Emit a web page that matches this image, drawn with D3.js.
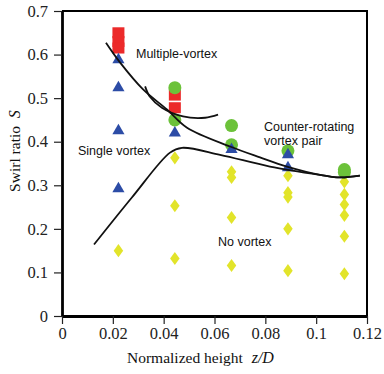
<!DOCTYPE html>
<html>
<head>
<meta charset="utf-8">
<script src="https://cdn.jsdelivr.net/npm/d3@7"></script>
<style>
  body { margin: 0; background: #fff; }
  svg { display: block; }
</style>
</head>
<body>
<svg width="384" height="374"></svg>
<script>
// measurement columns, normalized height z/D
var zD = [0.0222, 0.0444, 0.0667, 0.0889, 0.1111];

// swirl ratio at each column, one list per vortex type
var multiS = [[0.65, 0.63, 0.615], [0.507, 0.478], [], [], []];      // red squares
var singleS = [[0.588, 0.524, 0.425, 0.292], [0.42], [0.382], [0.37, 0.34], []]; // blue triangles
var pairS = [[], [0.524, 0.45], [0.437, 0.393], [0.379], [0.336, 0.330]];         // green circles
var noneS = [[0.15], [0.363, 0.253, 0.132], [0.331, 0.318, 0.226, 0.116],
             [0.322, 0.283, 0.273, 0.2, 0.104], [0.308, 0.279, 0.256, 0.231, 0.183, 0.097]]; // yellow diamonds

// boundary curves, [z/D, S]
var upperCurve = [[0.0173, 0.627], [0.0228, 0.582], [0.0319, 0.520], [0.0413, 0.474], [0.0492, 0.432],
                  [0.0661, 0.389], [0.0779, 0.364], [0.0885, 0.343], [0.1015, 0.324], [0.1094, 0.318], [0.1172, 0.322]];
var hookCurve = [[0.0327, 0.527], [0.0346, 0.503], [0.0393, 0.478], [0.0476, 0.458], [0.0563, 0.455], [0.0614, 0.462]];
var lowerCurve = [[0.0126, 0.164], [0.0275, 0.272], [0.0425, 0.375], [0.0472, 0.386], [0.0622, 0.370],
                  [0.0818, 0.343], [0.1015, 0.324], [0.1094, 0.318], [0.1172, 0.322]];

var yTicks = [0, 0.1, 0.2, 0.3, 0.4, 0.5, 0.6, 0.7];
var yTickLabels = ["0", "0.1", "0.2", "0.3", "0.4", "0.5", "0.6", "0.7"];
var xTicks = [0, 0.02, 0.04, 0.06, 0.08, 0.1, 0.12];
var xTickLabels = ["0", "0.02", "0.04", "0.06", "0.08", "0.1", "0.12"];

function draw() {
    var svg = d3.select("svg");
    var left = 62, right = 367, top = 11, bottom = 316;

    var x = d3.scaleLinear().domain([0, 0.12]).range([left, right]);
    var y = d3.scaleLinear().domain([0, 0.7]).range([bottom, top]);

    // frame top / right
    svg.append("path")
        .attr("d", "M" + left + "," + top + "H" + right + "V" + bottom)
        .attr("fill", "none").attr("stroke", "#000").attr("stroke-width", 2);

    var serif = "'Liberation Serif', 'Times New Roman', serif";
    var sans = "'Liberation Sans', Arial, sans-serif";

    var yAxis = svg.append("g")
        .attr("transform", "translate(" + left + ",0)")
        .call(d3.axisLeft(y).tickValues(yTicks).tickSize(8).tickSizeOuter(0).tickPadding(6)
            .tickFormat(function(d, i) { return yTickLabels[i]; }));

    var xAxis = svg.append("g")
        .attr("transform", "translate(0," + bottom + ")")
        .call(d3.axisBottom(x).tickValues(xTicks).tickSize(8).tickSizeOuter(0).tickPadding(3)
            .tickFormat(function(d, i) { return xTickLabels[i]; }));

    [yAxis, xAxis].forEach(function(a) {
        a.select(".domain").attr("stroke-width", 2.8).attr("stroke", "#000");
        a.selectAll(".tick line").attr("stroke", "#222").attr("stroke-width", 1.2);
        a.selectAll(".tick text").attr("font-family", serif).attr("font-size", 16.5).attr("fill", "#222");
    });

    // markers
    function flat(list) {
        var out = [];
        list.forEach(function(col, i) {
            col.forEach(function(s) { out.push({ z: zD[i], s: s }); });
        });
        return out;
    }

    var plot = svg.append("g");

    plot.selectAll(".none").data(flat(noneS)).enter().append("path")
        .attr("class", "none")
        .attr("d", d3.symbol().type(d3.symbolDiamond).size(50))
        .attr("transform", function(d) { return "translate(" + x(d.z) + "," + y(d.s) + ") scale(1.25,1)"; })
        .attr("fill", "#e2e42a");

    plot.selectAll(".multi").data(flat(multiS)).enter().append("rect")
        .attr("class", "multi")
        .attr("x", function(d) { return x(d.z) - 6; })
        .attr("y", function(d) { return y(d.s) - 5.5; })
        .attr("width", 12).attr("height", 11)
        .attr("fill", "#ec2a2a");

    plot.selectAll(".pair").data(flat(pairS)).enter().append("circle")
        .attr("class", "pair")
        .attr("cx", function(d) { return x(d.z); })
        .attr("cy", function(d) { return y(d.s); })
        .attr("r", 6.5)
        .attr("fill", "#6cc23a");

    plot.selectAll(".single").data(flat(singleS)).enter().append("path")
        .attr("class", "single")
        .attr("d", d3.symbol().type(d3.symbolTriangle).size(64))
        .attr("transform", function(d) { return "translate(" + x(d.z) + "," + y(d.s) + ")"; })
        .attr("fill", "#2c4ca6");

    // boundary curves
    var line = d3.line()
        .x(function(d) { return x(d[0]); })
        .y(function(d) { return y(d[1]); })
        .curve(d3.curveCatmullRom.alpha(0.5));

    [upperCurve, hookCurve, lowerCurve].forEach(function(c) {
        svg.append("path")
            .attr("d", line(c))
            .attr("fill", "none")
            .attr("stroke", "#111")
            .attr("stroke-width", 1.8);
    });

    // region labels
    var labels = [
        { t: "Multiple-vortex", px: 136, py: 58 },
        { t: "Single vortex", px: 78, py: 155 },
        { t: "Counter-rotating", px: 264, py: 131 },
        { t: "vortex pair", px: 264, py: 145 },
        { t: "No vortex", px: 218, py: 246 }
    ];
    svg.selectAll(".lbl").data(labels).enter().append("text")
        .attr("class", "lbl")
        .attr("x", function(d) { return d.px; })
        .attr("y", function(d) { return d.py; })
        .attr("font-family", sans)
        .attr("font-size", 12.5)
        .attr("fill", "#111")
        .text(function(d) { return d.t; });

    // axis titles
    var xt = svg.append("text")
        .attr("x", 127).attr("y", 363)
        .attr("font-family", serif).attr("font-size", 15.5).attr("fill", "#111");
    xt.append("tspan").text("Normalized height ");
    xt.append("tspan").attr("dx", 5).attr("font-style", "italic").attr("font-size", 16).text("z/D");

    var yt = svg.append("text")
        .attr("transform", "translate(20,151) rotate(-90)")
        .attr("text-anchor", "middle")
        .attr("font-family", serif).attr("font-size", 15.5).attr("fill", "#111");
    yt.append("tspan").text("Swirl ratio ");
    yt.append("tspan").attr("dx", 4).attr("font-style", "italic").attr("font-size", 16).text("S");
}

draw();
</script>
</body>
</html>
